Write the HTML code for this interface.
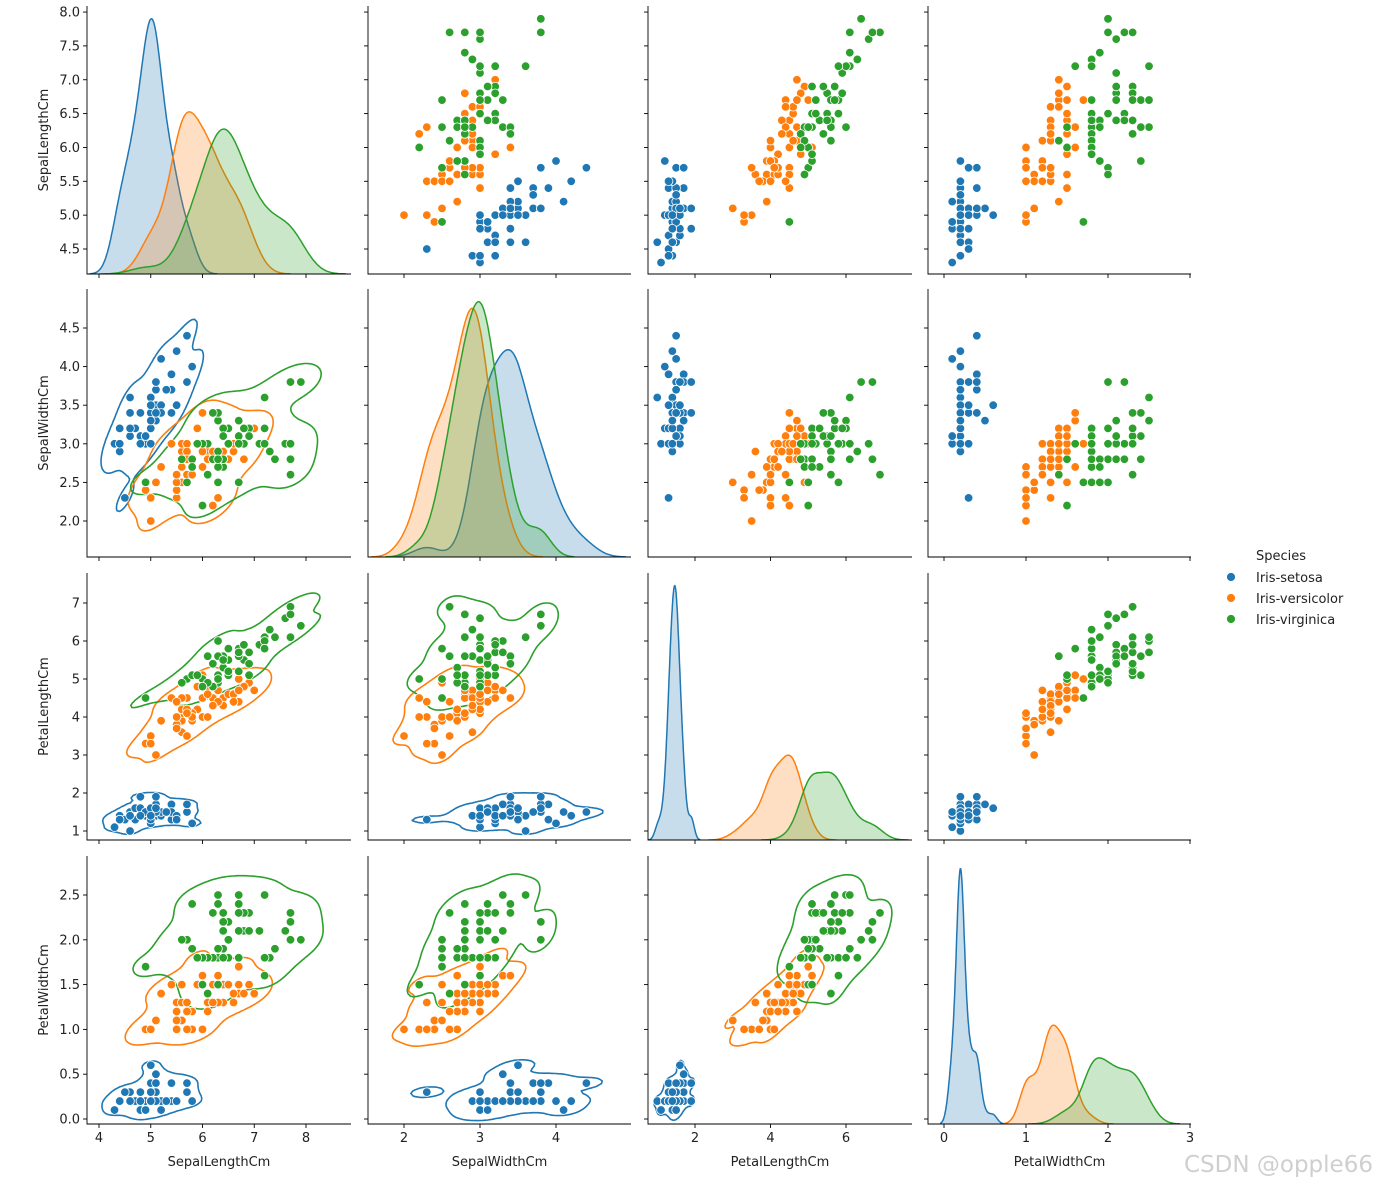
<!DOCTYPE html>
<html><head><meta charset="utf-8"><style>
html,body{margin:0;padding:0;background:#fff;}
svg text{font-family:"DejaVu Sans","Liberation Sans",sans-serif;}
</style></head><body>
<svg id="chart" width="1386" height="1186" xmlns="http://www.w3.org/2000/svg"></svg>
<script>
const sepalLength=[5.1,4.9,4.7,4.6,5.0,5.4,4.6,5.0,4.4,4.9,5.4,4.8,4.8,4.3,5.8,5.7,5.4,5.1,5.7,5.1,5.4,5.1,4.6,5.1,4.8,5.0,5.0,5.2,5.2,4.7,4.8,5.4,5.2,5.5,4.9,5.0,5.5,4.9,4.4,5.1,5.0,4.5,4.4,5.0,5.1,4.8,5.1,4.6,5.3,5.0,
7.0,6.4,6.9,5.5,6.5,5.7,6.3,4.9,6.6,5.2,5.0,5.9,6.0,6.1,5.6,6.7,5.6,5.8,6.2,5.6,5.9,6.1,6.3,6.1,6.4,6.6,6.8,6.7,6.0,5.7,5.5,5.5,5.8,6.0,5.4,6.0,6.7,6.3,5.6,5.5,5.5,6.1,5.8,5.0,5.6,5.7,5.7,6.2,5.1,5.7,
6.3,5.8,7.1,6.3,6.5,7.6,4.9,7.3,6.7,7.2,6.5,6.4,6.8,5.7,5.8,6.4,6.5,7.7,7.7,6.0,6.9,5.6,7.7,6.3,6.7,7.2,6.2,6.1,6.4,7.2,7.4,7.9,6.4,6.3,6.1,7.7,6.3,6.4,6.0,6.9,6.7,6.9,5.8,6.8,6.7,6.7,6.3,6.5,6.2,5.9];
const sepalWidth=[3.5,3.0,3.2,3.1,3.6,3.9,3.4,3.4,2.9,3.1,3.7,3.4,3.0,3.0,4.0,4.4,3.9,3.5,3.8,3.8,3.4,3.7,3.6,3.3,3.4,3.0,3.4,3.5,3.4,3.2,3.1,3.4,4.1,4.2,3.1,3.2,3.5,3.1,3.0,3.4,3.5,2.3,3.2,3.5,3.8,3.0,3.8,3.2,3.7,3.3,
3.2,3.2,3.1,2.3,2.8,2.8,3.3,2.4,2.9,2.7,2.0,3.0,2.2,2.9,2.9,3.1,3.0,2.7,2.2,2.5,3.2,2.8,2.5,2.8,2.9,3.0,2.8,3.0,2.9,2.6,2.4,2.4,2.7,2.7,3.0,3.4,3.1,2.3,3.0,2.5,2.6,3.0,2.6,2.3,2.7,3.0,2.9,2.9,2.5,2.8,
3.3,2.7,3.0,2.9,3.0,3.0,2.5,2.9,2.5,3.6,3.2,2.7,3.0,2.5,2.8,3.2,3.0,3.8,2.6,2.2,3.2,2.8,2.8,2.7,3.3,3.2,2.8,3.0,2.8,3.0,2.8,3.8,2.8,2.8,2.6,3.0,3.4,3.1,3.0,3.1,3.1,3.1,2.7,3.2,3.3,3.0,2.5,3.0,3.4,3.0];
const petalLength=[1.4,1.4,1.3,1.5,1.4,1.7,1.4,1.5,1.4,1.5,1.5,1.6,1.4,1.1,1.2,1.5,1.3,1.4,1.7,1.5,1.7,1.5,1.0,1.7,1.9,1.6,1.6,1.5,1.4,1.6,1.6,1.5,1.5,1.4,1.5,1.2,1.3,1.5,1.3,1.5,1.3,1.3,1.3,1.6,1.9,1.4,1.6,1.4,1.5,1.4,
4.7,4.5,4.9,4.0,4.6,4.5,4.7,3.3,4.6,3.9,3.5,4.2,4.0,4.7,3.6,4.4,4.5,4.1,4.5,3.9,4.8,4.0,4.9,4.7,4.3,4.4,4.8,5.0,4.5,3.5,3.8,3.7,3.9,5.1,4.5,4.5,4.7,4.4,4.1,4.0,4.4,4.6,4.0,3.3,4.2,4.2,4.2,4.3,3.0,4.1,
6.0,5.1,5.9,5.6,5.8,6.6,4.5,6.3,5.8,6.1,5.1,5.3,5.5,5.0,5.1,5.3,5.5,6.7,6.9,5.0,5.7,4.9,6.7,4.9,5.7,6.0,4.8,4.9,5.6,5.8,6.1,6.4,5.6,5.1,5.6,6.1,5.6,5.5,4.8,5.4,5.6,5.1,5.1,5.9,5.7,5.2,5.0,5.2,5.4,5.1];
const petalWidth=[0.2,0.2,0.2,0.2,0.2,0.4,0.3,0.2,0.2,0.1,0.2,0.2,0.1,0.1,0.2,0.4,0.4,0.3,0.3,0.3,0.2,0.4,0.2,0.5,0.2,0.2,0.4,0.2,0.2,0.2,0.2,0.4,0.1,0.2,0.1,0.2,0.2,0.1,0.2,0.2,0.3,0.3,0.2,0.6,0.4,0.3,0.2,0.2,0.2,0.2,
1.4,1.5,1.5,1.3,1.5,1.3,1.6,1.0,1.3,1.4,1.0,1.5,1.0,1.4,1.3,1.4,1.5,1.0,1.5,1.1,1.8,1.3,1.5,1.2,1.3,1.4,1.4,1.7,1.5,1.0,1.1,1.0,1.2,1.6,1.5,1.6,1.5,1.3,1.3,1.3,1.2,1.4,1.2,1.0,1.3,1.2,1.3,1.3,1.1,1.3,
2.5,1.9,2.1,1.8,2.2,2.1,1.7,1.8,1.8,2.5,2.0,1.9,2.1,2.0,2.4,2.3,1.8,2.2,2.3,1.5,2.3,2.0,2.0,1.8,2.1,1.8,1.8,1.8,2.1,1.6,1.9,2.0,2.2,1.5,1.4,2.3,2.4,1.8,1.8,2.1,2.4,2.3,1.9,2.3,2.5,2.3,1.9,2.0,2.3,1.8];
const speciesNames=['Iris-setosa','Iris-versicolor','Iris-virginica'];
const speciesCounts=[50,50,50];
const varNames=['SepalLengthCm','SepalWidthCm','PetalLengthCm','PetalWidthCm'];
const xTickVals=[[4,5,6,7,8],[2,3,4],[2,4,6],[0,1,2,3]];
const yTickVals=[[4.5,5.0,5.5,6.0,6.5,7.0,7.5,8.0],[2.0,2.5,3.0,3.5,4.0,4.5],[1,2,3,4,5,6,7],[0.0,0.5,1.0,1.5,2.0,2.5]];
const yTickLabels=[['4.5','5.0','5.5','6.0','6.5','7.0','7.5','8.0'],['2.0','2.5','3.0','3.5','4.0','4.5'],['1','2','3','4','5','6','7'],['0.0','0.5','1.0','1.5','2.0','2.5']];

const colors=['#1f77b4','#ff7f0e','#2ca02c'];
const cols=[[87,351],[368,631],[648,912],[928,1191]];
const rows=[[6,274],[289,557],[573,840],[856,1124]];
const xs=[{a:-108,b:51.75},{a:252,b:76},{a:619.5,b:37.75},{a:944,b:82}];
const ys=[{a:553.65,b:-67.7},{a:675.4,b:-77.2},{a:869,b:-38},{a:1119,b:-89.6}];
const vars=[sepalLength,sepalWidth,petalLength,petalWidth];
const NS='http://www.w3.org/2000/svg';
const svg=document.getElementById('chart');
function mk(tag,attrs,parent){const e=document.createElementNS(NS,tag);for(const k in attrs)e.setAttribute(k,attrs[k]);(parent||svg).appendChild(e);return e;}
function speciesOf(i){let s=0,acc=0;for(let k=0;k<speciesCounts.length;k++){acc+=speciesCounts[k];if(i<acc)return k;}return 0;}
function groupIdx(k){const out=[];for(let i=0;i<vars[0].length;i++)if(speciesOf(i)===k)out.push(i);return out;}
const groups=speciesNames.map((_,k)=>groupIdx(k));
const X=(c,v)=>xs[c].a+xs[c].b*v, Y=(r,v)=>ys[r].a+ys[r].b*v;
function mean(a){return a.reduce((s,v)=>s+v,0)/a.length;}

const defs=mk('defs',{});
for(let r=0;r<4;r++)for(let c=0;c<4;c++){
  const cp=mk('clipPath',{id:'cp'+r+c},defs);
  mk('rect',{x:cols[c][0],y:rows[r][0],width:cols[c][1]-cols[c][0],height:rows[r][1]-rows[r][0]},cp);
}

function scatter(r,c,g){
  for(let i=0;i<vars[0].length;i++){
    const k=speciesOf(i);
    const p=mk('circle',{cx:X(c,vars[c][i]),cy:Y(r,vars[r][i]),r:4.3,fill:colors[k],stroke:'#fff','stroke-width':0.8},g);
    
    
  }
}
function diag(d,g){
  const x0=cols[d][0],x1=cols[d][1],bot=rows[d][1],top=rows[d][0];
  const curves=[];let mx=0;const N=vars[0].length;
  groups.forEach((idx,k)=>{
    const v=idx.map(i=>vars[d][i]);const m=mean(v);
    const sd=Math.sqrt(v.reduce((s,x)=>s+(x-m)*(x-m),0)/(v.length-1));
    const bw=sd*Math.pow(v.length,-0.2);
    const lo=Math.min(...v)-3*bw,hi=Math.max(...v)+3*bw;
    const pts=[];
    for(let j=0;j<=200;j++){const x=lo+(hi-lo)*j/200;let s=0;for(const xi of v)s+=Math.exp(-0.5*((x-xi)/bw)**2);
      const dens=s/(v.length*bw*Math.sqrt(2*Math.PI))*v.length/N;pts.push([x,dens]);if(dens>mx)mx=dens;}
    curves.push(pts);
  });
  const h=bot-top, sc=h/(mx*1.05);
  curves.forEach((pts,k)=>{
    const line=pts.map((p,j)=>(j?'L':'M')+X(d,p[0]).toFixed(1)+' '+(bot-p[1]*sc).toFixed(1)).join(' ');
    const f=mk('path',{d:line+` L${X(d,pts[pts.length-1][0]).toFixed(1)} ${bot} L${X(d,pts[0][0]).toFixed(1)} ${bot} Z`,fill:colors[k],'fill-opacity':0.25,stroke:'none'},g);
    
    
    const l=mk('path',{d:line,fill:'none',stroke:colors[k],'stroke-width':1.5},g);
    
    
  });
}
function contour(r,c,g){
  const x0=cols[c][0],x1=cols[c][1],y0=rows[r][0],y1=rows[r][1];const step=2.5;
  const nx=Math.ceil((x1-x0)/step)+1, ny=Math.ceil((y1-y0)/step)+1;
  groups.forEach((idx,k)=>{
    const px=idx.map(i=>vars[c][i]),py=idx.map(i=>vars[r][i]);const n=px.length;
    const mxv=mean(px),myv=mean(py);let sxx=0,syy=0,sxy=0;
    for(let i=0;i<n;i++){const dx=px[i]-mxv,dy=py[i]-myv;sxx+=dx*dx;syy+=dy*dy;sxy+=dx*dy;}
    const f2=Math.pow(n,-2/6);sxx=sxx/(n-1)*f2;syy=syy/(n-1)*f2;sxy=sxy/(n-1)*f2;
    const det=sxx*syy-sxy*sxy;const ia=syy/det,ib=-sxy/det,ic=sxx/det;
    const G=[];const all=[];
    for(let j=0;j<ny;j++){const row=[];const yv=(y0+j*step-ys[r].a)/ys[r].b;
      for(let i=0;i<nx;i++){const xv=(x0+i*step-xs[c].a)/xs[c].b;let s=0;
        for(let q=0;q<n;q++){const dx=xv-px[q],dy=yv-py[q];s+=Math.exp(-0.5*(ia*dx*dx+2*ib*dx*dy+ic*dy*dy));}
        row.push(s);all.push(s);}
      G.push(row);}
    all.sort((a,b)=>a-b);const tot=all.reduce((s,v)=>s+v,0);let acc=0,L=all[0];
    for(const v of all){acc+=v;if(acc>=0.05*tot){L=v;break;}}
    let dstr='';
    const ip=(xa,ya,va,xb,yb,vb)=>{const t=(L-va)/(vb-va);return [xa+(xb-xa)*t,ya+(yb-ya)*t];};
    for(let j=0;j<ny-1;j++)for(let i=0;i<nx-1;i++){
      const v0=G[j][i],v1=G[j][i+1],v2=G[j+1][i+1],v3=G[j+1][i];
      const ax=x0+i*step,ay=y0+j*step,bx=ax+step,by=ay+step;const P=[];
      if((v0>=L)!==(v1>=L))P.push(ip(ax,ay,v0,bx,ay,v1));
      if((v1>=L)!==(v2>=L))P.push(ip(bx,ay,v1,bx,by,v2));
      if((v2>=L)!==(v3>=L))P.push(ip(bx,by,v2,ax,by,v3));
      if((v3>=L)!==(v0>=L))P.push(ip(ax,by,v3,ax,ay,v0));
      for(let q=0;q+1<P.length;q+=2)dstr+=`M${P[q][0].toFixed(1)} ${P[q][1].toFixed(1)}L${P[q+1][0].toFixed(1)} ${P[q+1][1].toFixed(1)}`;
    }
    const p=mk('path',{d:dstr,fill:'none',stroke:colors[k],'stroke-width':1.6,'stroke-linecap':'round'},g);
    
    
  });
}

for(let r=0;r<4;r++)for(let c=0;c<4;c++){
  const g=mk('g',{'clip-path':`url(#cp${r}${c})`});
  
  
  if(r===c)diag(r,g);else{if(r>c)contour(r,c,g);scatter(r,c,g);}
  const ax=mk('g',{});
  
  
  const L=cols[c][0],R=cols[c][1],T=rows[r][0],B=rows[r][1];
  mk('path',{d:`M${L} ${T}V${B}H${R}`,fill:'none',stroke:'#000','stroke-width':0.9},ax);
  xTickVals[c].forEach(v=>{const x=X(c,v);mk('line',{x1:x,x2:x,y1:B,y2:B+4,stroke:'#000','stroke-width':0.9},ax);
    if(r===3){const t=mk('text',{x:x,y:B+18,'font-size':13,'text-anchor':'middle',fill:'#222'},ax);t.textContent=String(v);
      }});
  yTickVals[r].forEach((v,j)=>{const y=Y(r,v);mk('line',{x1:L-4,x2:L,y1:y,y2:y,stroke:'#000','stroke-width':0.9},ax);
    if(c===0){const t=mk('text',{x:L-7,y:y+4.5,'font-size':13,'text-anchor':'end',fill:'#222'},ax);t.textContent=yTickLabels[r][j];
      }});
}
for(let c=0;c<4;c++){const t=mk('text',{x:(cols[c][0]+cols[c][1])/2,y:1166,'font-size':13,'text-anchor':'middle',fill:'#222'});t.textContent=varNames[c];
  }
for(let r=0;r<4;r++){const cy=(rows[r][0]+rows[r][1])/2;const t=mk('text',{x:48,y:cy,'font-size':13,'text-anchor':'middle',fill:'#222',transform:`rotate(-90 48 ${cy})`});t.textContent=varNames[r];
  }
const lg=mk('g',{});


const lt=mk('text',{x:1256,y:560,'font-size':13,fill:'#222'},lg);lt.textContent='Species';
speciesNames.forEach((s,k)=>{
  const y=577+k*21;
  const m=mk('circle',{cx:1231,cy:y,r:4.5,fill:colors[k],stroke:'#fff','stroke-width':0.8},lg);
  
  const t=mk('text',{x:1256,y:y+5,'font-size':13,fill:'#222'},lg);t.textContent=s;
  
});
const wm=mk('text',{x:1184,y:1172,'font-size':23,fill:'#cfcfcf','font-family':'Liberation Sans, sans-serif'});
wm.textContent='CSDN @opple66';


</script>
</body></html>
